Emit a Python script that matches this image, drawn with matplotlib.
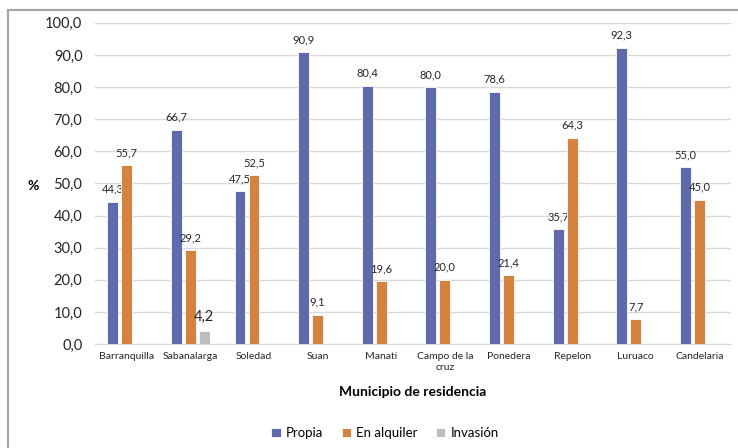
import numpy as np
import matplotlib
matplotlib.use("Agg")
import matplotlib.pyplot as plt
from matplotlib.patches import Rectangle

# --------------------------------------------------
# Data
# --------------------------------------------------

municipios = [
    "Barranquilla", "Sabanalarga", "Soledad", "Suan", "Manati",
    "Campo de la\ncruz", "Ponedera", "Repelon", "Luruaco", "Candelaria"
]

propia = [44.3, 66.7, 47.5, 90.9, 80.4, 80.0, 78.6, 35.7, 92.3, 55.0]
alquiler = [55.7, 29.2, 52.5, 9.1, 19.6, 20.0, 21.4, 64.3, 7.7, 45.0]
invasion = [None, 4.2, None, None, None, None, None, None, None, None]

y_ticks = np.arange(0, 101, 10)

# --------------------------------------------------
# Style
# --------------------------------------------------

plt.rcParams["font.family"] = ["Lato", "DejaVu Sans"]

C_PROPIA = "#5F69AE"
C_ALQUILER = "#D5823C"
C_INVASION = "#BDBDBD"

fig = plt.figure(figsize=(7.38, 4.48), dpi=100)
ax = fig.add_axes([0.1287, 0.232, 0.862, 0.717])

# outer frame (left and top edges visible)
fig.patches.append(Rectangle((8 / 738, -0.05), 1.1, 1 - 10 / 448 + 0.05,
                             transform=fig.transFigure, fill=False,
                             edgecolor="#A6A6A6", linewidth=1.6))

x = np.arange(len(municipios))
w = 0.17
off = 0.22


def fmt(v):
    return f"{v:.1f}".replace(".", ",")


series = [
    ("Propia", propia, -off, C_PROPIA),
    ("En alquiler", alquiler, 0.0, C_ALQUILER),
    ("Invasión", invasion, off, C_INVASION),
]

for name, vals, dx, color in series:
    xs = [xi + dx for xi, v in zip(x, vals) if v is not None]
    vs = [v for v in vals if v is not None]
    ax.bar(xs, vs, width=w, color=color, edgecolor="white",
           linewidth=0.6, label=name, zorder=3)
    for xi, v in zip(xs, vs):
        size = 10.5 if name == "Invasión" else 8
        ax.annotate(fmt(v), (xi, v), xytext=(0, 5), textcoords="offset points",
                    ha="center", va="bottom", fontsize=size, color="#262626")

ax.set_xlim(-0.5, len(municipios) - 0.5)
ax.set_ylim(0, 100)
ax.set_yticks(y_ticks)
ax.set_yticklabels([fmt(t) for t in y_ticks], fontsize=10.5, color="#262626")
ax.set_xticks(x)
ax.set_xticklabels(municipios, fontsize=7.5, color="#262626", linespacing=1.3)
ax.tick_params(length=0)
ax.tick_params(axis="y", pad=9)
ax.tick_params(axis="x", pad=6)

ax.grid(axis="y", color="#D9D9D9", linewidth=1, zorder=0)
for s in ["top", "right", "left"]:
    ax.spines[s].set_visible(False)
ax.spines["bottom"].set_color("#D9D9D9")

ax.set_xlabel("Municipio de residencia", fontsize=10, fontweight="bold",
              labelpad=10)
fig.text(33 / 738, 1 - 186 / 448, "%", fontsize=10, fontweight="bold",
         ha="center", va="center")

fig.legend(loc="center", bbox_to_anchor=(0.522, 1 - 433 / 448), ncol=3,
           frameon=False, fontsize=9.5, handlelength=0.7, handleheight=0.7,
           handletextpad=0.4, columnspacing=1.4)

plt.savefig("out.png", dpi=100)
plt.close()
